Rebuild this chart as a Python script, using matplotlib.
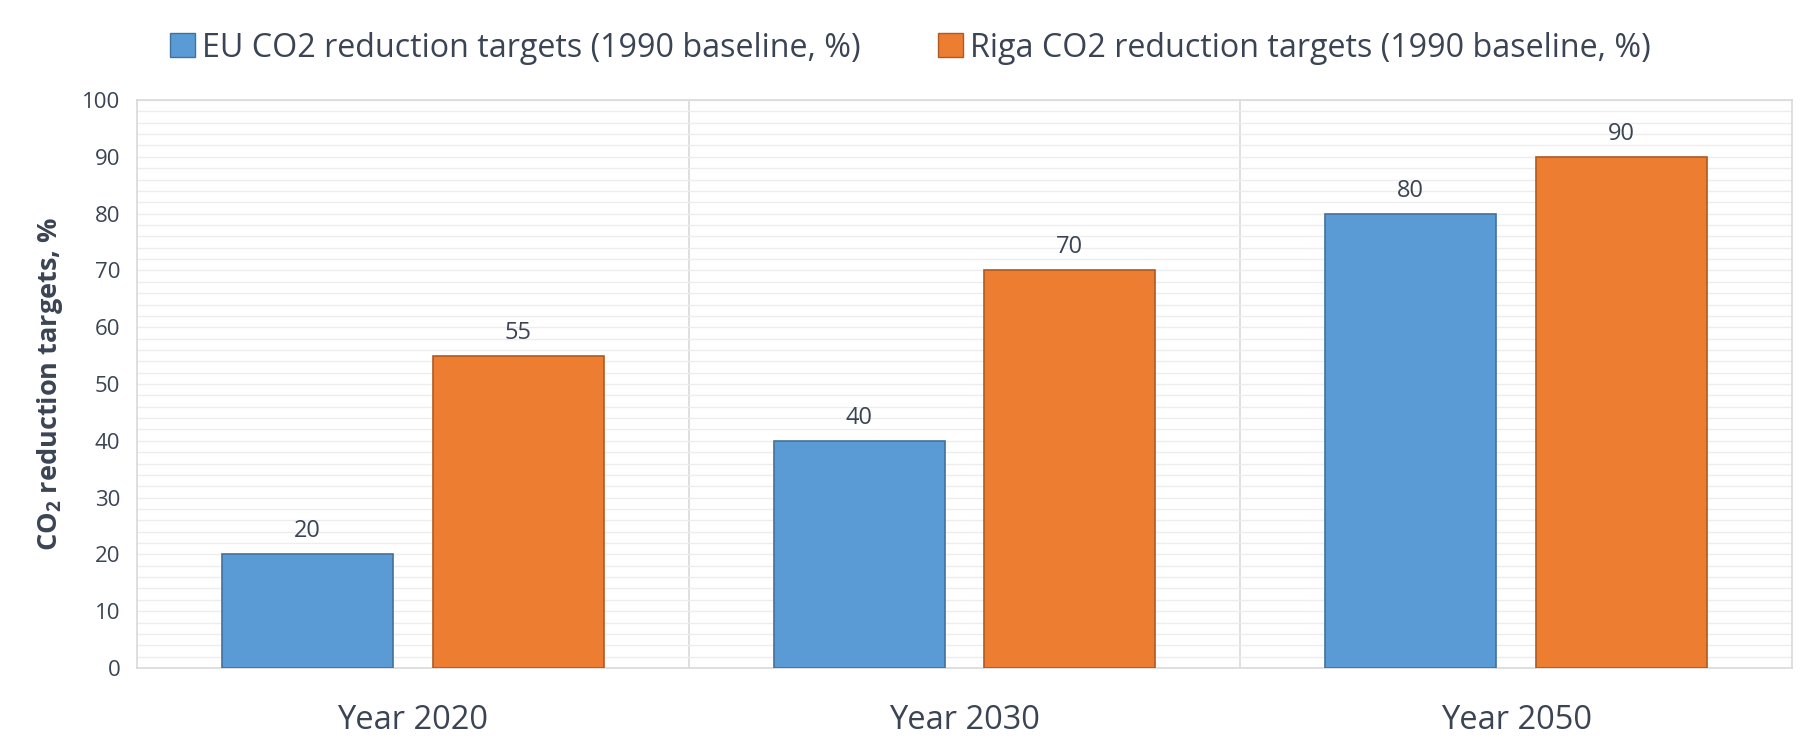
import numpy as np
import matplotlib
matplotlib.use("Agg")
import matplotlib.pyplot as plt
from matplotlib.patches import Patch

categories = ["Year 2020", "Year 2030", "Year 2050"]
eu_targets = [20, 40, 80]
riga_targets = [55, 70, 90]
series_names = ["EU CO2 reduction targets (1990 baseline, %)",
                "Riga CO2 reduction targets (1990 baseline, %)"]

plt.rcParams['font.family'] = ['Open Sans', 'DejaVu Sans']
plt.rcParams['mathtext.fontset'] = 'custom'
plt.rcParams['mathtext.rm'] = 'Open Sans'
plt.rcParams['mathtext.bf'] = 'Open Sans:bold'

TEXT = '#3a4454'
BLUE, BLUE_EDGE = '#5b9bd5', '#41719c'
ORANGE, ORANGE_EDGE = '#ed7d31', '#ae5a21'

fig = plt.figure(figsize=(18.13, 7.51), dpi=100)
ax = fig.add_axes([0.0756, 0.1105, 0.9128, 0.7563])

x = np.arange(len(categories))
w = 0.31
off = 0.191
b1 = ax.bar(x - off, eu_targets, w, color=BLUE, edgecolor=BLUE_EDGE, linewidth=1.2, zorder=3)
b2 = ax.bar(x + off, riga_targets, w, color=ORANGE, edgecolor=ORANGE_EDGE, linewidth=1.2, zorder=3)

for bars in (b1, b2):
    ax.bar_label(bars, padding=8, fontsize=17, color=TEXT)

ax.set_xlim(-0.5, len(categories) - 0.5)
ax.set_ylim(0, 100)
ax.set_yticks(np.arange(0, 101, 10))
ax.set_yticks(np.arange(0, 101, 2), minor=True)
ax.grid(axis='y', which='both', color='#ededed', linewidth=1, zorder=0)
for sep in x[:-1] + 0.5:
    ax.axvline(sep, color='#d9d9d9', linewidth=1.2, zorder=1)

ax.set_xticks(x)
ax.set_xticklabels(categories, fontsize=23.5, color=TEXT)
ax.tick_params(axis='x', length=0, pad=26)
ax.tick_params(axis='y', which='both', length=0, labelsize=16, labelcolor=TEXT, pad=12)

for s in ax.spines.values():
    s.set_color('#d9d9d9')
    s.set_linewidth(1.2)

ax.set_ylabel(r'$\mathbf{CO_2}$ reduction targets, %', fontsize=19.5, fontweight='bold',
              color=TEXT, labelpad=12)

# legend across the top, square markers
handles = [Patch(facecolor=BLUE, edgecolor=BLUE_EDGE), Patch(facecolor=ORANGE, edgecolor=ORANGE_EDGE)]
fig.legend(handles, series_names, loc='center', bbox_to_anchor=(0.5022, 0.936), ncol=2,
           frameon=False, fontsize=23.25, labelcolor=TEXT, handlelength=0.78, handleheight=0.78,
           handletextpad=0.22, columnspacing=2.4)

plt.savefig('out.png', dpi=100)
plt.close()
